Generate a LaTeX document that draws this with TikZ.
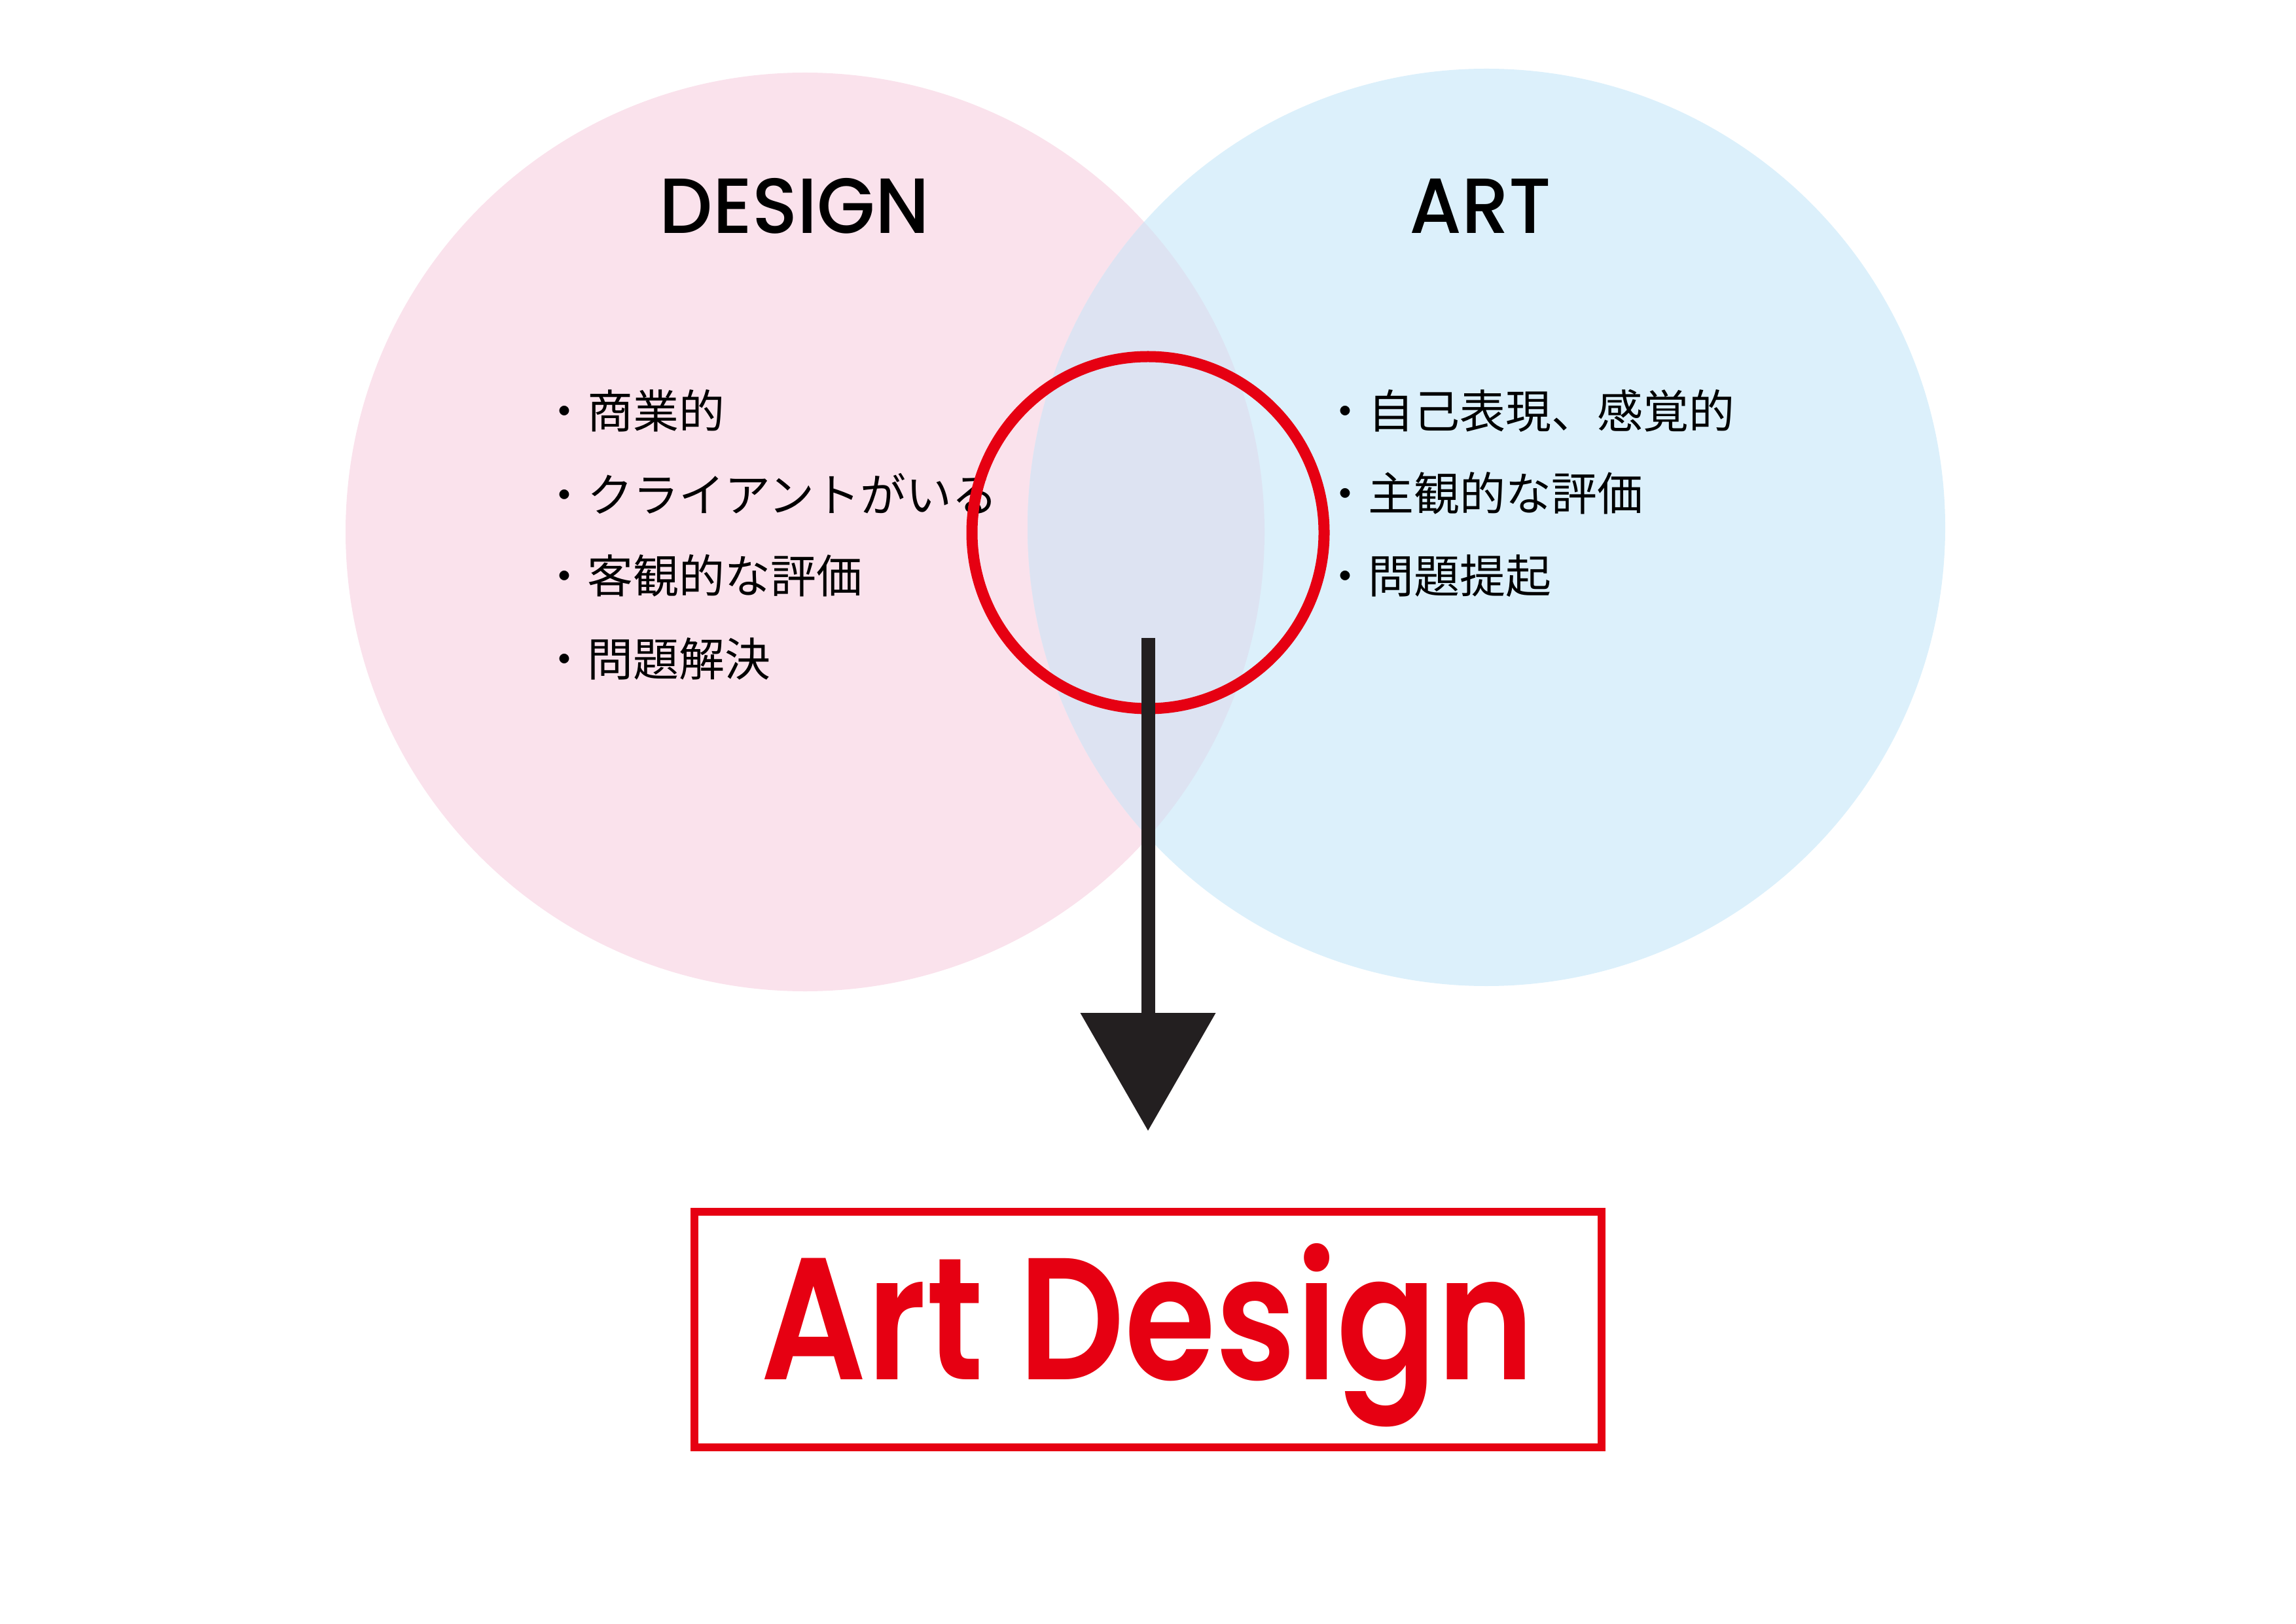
\documentclass[tikz,border=0pt]{standalone}
\usepackage{fontspec}
\usetikzlibrary{arrows.meta}
\newfontfamily\jpfont{Noto Sans CJK JP}
\newfontfamily\headfont[FakeStretch=0.96]{Poppins Medium}
\newfontfamily\markfont[FakeStretch=0.85]{Poppins SemiBold}
\definecolor{designpink}{HTML}{FAE2EC}
\definecolor{artblue}{HTML}{DCF0FB}
\definecolor{mixblue}{HTML}{DDE3F2}
\definecolor{markred}{HTML}{E60012}
\definecolor{inkblack}{HTML}{231F20}

\begin{document}
\begin{tikzpicture}[
  item/.style={anchor=west,inner sep=0pt,font=\jpfont\fontsize{19.9pt}{24pt}\selectfont},
  head/.style={inner sep=0pt,font=\headfont\fontsize{34pt}{40pt}\selectfont},
]
\useasboundingbox (0,0) rectangle (35.08,24.81);

% the two sets
\fill[color=designpink] (12.30,16.68) circle (7.02);
\fill[color=artblue] (22.71,16.75) circle (7.01);
\begin{scope}
\clip (12.30,16.68) circle (7.02);
\fill[color=mixblue] (22.71,16.75) circle (7.01);
\end{scope}

\node[head] (design) at (12.14,21.66) {DESIGN};
\node[head] (art) at (22.62,21.66) {ART};

\node[item] (d1) at (8.27,18.53) {・商業的};
\node[item] (d2) at (8.27,17.27) {・クライアントがいる};
\node[item] (d3) at (8.27,16.01) {・客観的な評価};
\node[item] (d4) at (8.27,14.74) {・問題解決};

\node[item] (a1) at (20.20,18.53) {・自己表現、感覚的};
\node[item] (a2) at (20.20,17.27) {・主観的な評価};
\node[item] (a3) at (20.20,16.01) {・問題提起};

% the overlap
\node[circle,draw=markred,line width=0.17cm,minimum size=5.38cm,inner sep=0pt] (focus) at (17.54,16.67) {};

\coordinate (arrowtop) at (17.54,15.06);
\coordinate (arrowtip) at (17.54,7.53);
\draw[line width=0.21cm,color=inkblack,-{Triangle[width=2.07cm,length=1.80cm,line width=0pt]}] (arrowtop) -- (arrowtip);

\node[draw=markred,line width=0.125cm,inner sep=0pt,minimum width=13.86cm,minimum height=3.60cm,text height=2.10cm,text depth=0.58cm,text=markred,font=\markfont\fontsize{75.5pt}{80pt}\selectfont] (result) at (17.54,4.49) {Art Design};

\end{tikzpicture}
\end{document}
